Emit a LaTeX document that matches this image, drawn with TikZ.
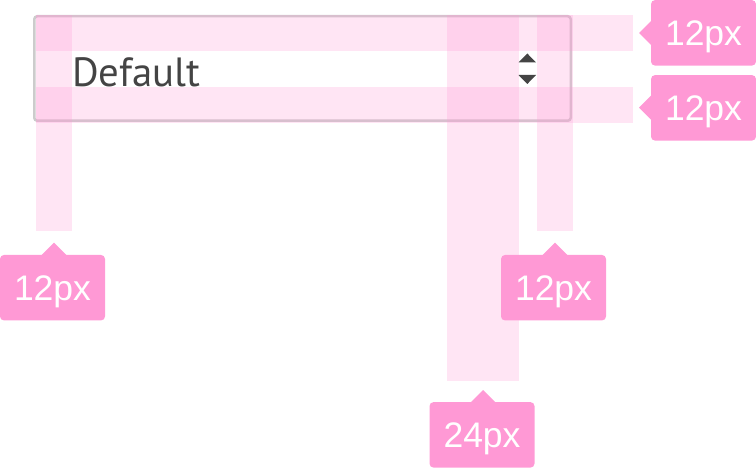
\documentclass[tikz,border=0pt]{standalone}
\usepackage{fontspec}
\newfontfamily\tagfont{Liberation Sans}
\newfontfamily\fieldfont{PT Sans}
\usetikzlibrary{positioning}
\definecolor{tagpink}{HTML}{FF99D5}
\definecolor{fieldgray}{HTML}{CCCCCC}
\definecolor{fieldtext}{HTML}{444444}

\begin{document}
\begin{tikzpicture}[x=1pt,y=-1pt,
    band/.style={fill=tagpink,fill opacity=0.25},
    tag/.style={fill=tagpink,rounded corners=4pt,text=white,inner sep=0pt,
      minimum width=105pt,minimum height=65.5pt,text depth=0pt,
      font=\tagfont\fontsize{35.5}{36}\selectfont},
    fieldbox/.style={draw=fieldgray,fill=white,line width=2.5pt,rounded corners=3pt}]
 \useasboundingbox (0,0) rectangle (756,468);
 % select field
 \draw[fieldbox] (34.25,16.25) rectangle (570.75,120.75);
 \node[anchor=base west,inner sep=0pt,text=fieldtext,
   font=\fieldfont\fontsize{40.8}{42}\selectfont] (value) at (72,86.5) {Default};
 \fill[fieldtext] (518.5,62.5) -- (527.3,53.5) -- (536,62.5) -- cycle;
 \fill[fieldtext] (518.5,75) -- (527.3,84) -- (536,75) -- cycle;
 % spacing bands
 \fill[band] (36,15) rectangle (633,51);
 \fill[band] (36,87) rectangle (633,123);
 \fill[band] (36,15) rectangle (72,231);
 \fill[band] (447,15) rectangle (519,381);
 \fill[band] (537,15) rectangle (573,231);
 % tags
 \coordinate (tipTop) at (639,33);
 \coordinate (tipBot) at (639,107.7);
 \coordinate (tipLeft) at (54,242.7);
 \coordinate (tipRight) at (555,242.7);
 \coordinate (tipWide) at (483,390);
 \node[tag] (tagTop) at (703.5,32.85) {12px};
 \node[tag] (tagBot) at (703.5,107.85) {12px};
 \node[tag] (tagLeft) at (52.5,287.7) {12px};
 \node[tag] (tagRight) at (553.5,287.7) {12px};
 \node[tag] (tagWide) at (482,434.85) {24px};
 \foreach \p in {tipTop,tipBot}
  {\fill[tagpink] (\p) -- ++(13,-13) -- ++(0,26) -- cycle;}
 \foreach \p in {tipLeft,tipRight,tipWide}
  {\fill[tagpink] (\p) -- ++(-13,13) -- ++(26,0) -- cycle;}
\end{tikzpicture}
\end{document}
